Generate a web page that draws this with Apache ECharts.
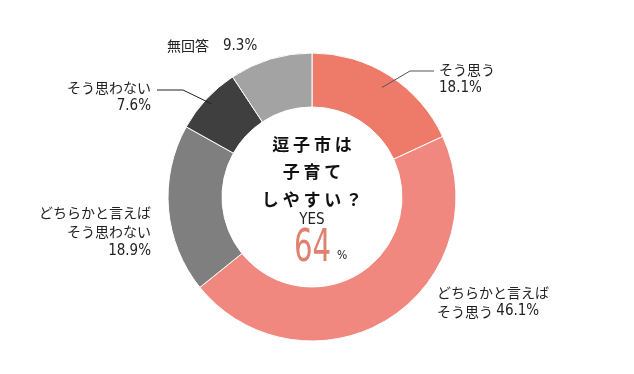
<!DOCTYPE html>
<html><head><meta charset="utf-8">
<script src="https://cdn.jsdelivr.net/npm/echarts@6/dist/echarts.min.js"></script>
<style>html,body{margin:0;padding:0;background:#fff}#c{width:634px;height:374px}</style>
</head><body><div id="c"></div>
<script>
// ---- data ----
var categories = ['そう思う', 'どちらかと言えばそう思う', 'どちらかと言えばそう思わない', 'そう思わない', '無回答'];
var labelNames = ['そう思う', 'どちらかと言えば\nそう思う', 'どちらかと言えば\nそう思わない', 'そう思わない', '無回答'];
var values = [18.1, 46.1, 18.9, 7.6, 9.3];
var yesTotal = 64;
var centerTitle = ['逗 子 市 は', '子 育 て', 'し や す い ？'];

// ---- styles / layout ----
var colors = ['#ee7b6a', '#f08880', '#7f7f7f', '#3f3f3f', '#a3a3a3'];
var CX = 312, CY = 197, R_IN = 90, R_OUT = 144;
var labelPos = [
  {x: 439, y: 79, align: 'left', line: [[410, 71], [434, 71]], lineColor: '#555', r: 130},
  {x: 437, y: 302, align: 'left'},
  {x: 151, y: 232, align: 'right'},
  {x: 151, y: 97, align: 'right', line: [[183, 90], [157, 90]], lineColor: '#222', r: 137},
  {x: 167, y: 46, align: 'left'}
];

var chart = echarts.init(document.getElementById('c'));
var narrow = '"Liberation Sans Narrow","DejaVu Sans Condensed",sans-serif';
var jp = '"Noto Sans CJK JP",sans-serif';

var data = values.map(function (v, i) {
  var fmt;
  if (i === 1) fmt = '{n|どちらかと言えば}\n{n|そう思う} {p|' + v + '%}';
  else if (i === 4) fmt = '{n|' + labelNames[i] + '}{n|　}{p|' + v + '%}';
  else fmt = labelNames[i].split('\n').map(function (s) { return '{n|' + s + '}'; }).join('\n') + '\n{p|' + v + '%}';
  return {
    name: categories[i], value: v,
    itemStyle: {color: colors[i]},
    label: {formatter: fmt, align: labelPos[i].align}
  };
});

// leader lines: start inside the slice at its mid angle
var total = values.reduce(function (a, b) { return a + b; }, 0);
var guides = [];
var cum = 0;
values.forEach(function (v, i) {
  var mid = (cum + v / 2) / total;
  cum += v;
  var lp = labelPos[i];
  if (!lp.line) return;
  var ang = Math.PI / 2 - mid * Math.PI * 2;
  var start = [CX + lp.r * Math.cos(ang), CY - lp.r * Math.sin(ang)];
  guides.push({
    type: 'polyline', z: 100,
    shape: {points: [start, lp.line[0], lp.line[1]]},
    style: {stroke: lp.lineColor, lineWidth: 1, fill: null}
  });
});

var titleFont = 'bold 17px ' + jp;
chart.setOption({
  animation: false,
  series: [{
    type: 'pie',
    center: [CX, CY],
    radius: [R_IN, R_OUT],
    startAngle: 90,
    clockwise: true,
    itemStyle: {borderColor: '#fff', borderWidth: 1},
    label: {
      show: true, position: 'outside', color: '#222', overflow: 'none', width: 200,
      rich: {
        n: {fontFamily: jp, fontSize: 14, color: '#222', lineHeight: 19},
        p: {fontFamily: narrow, fontSize: 15, color: '#222', lineHeight: 19}
      }
    },
    labelLine: {show: false},
    labelLayout: function (params) {
      var lp = labelPos[params.dataIndex];
      return {x: lp.x, y: lp.y, align: lp.align, verticalAlign: 'middle', moveOverlap: null};
    },
    data: data
  }],
  graphic: guides.concat([
    {type: 'text', x: CX, y: 145, style: {text: centerTitle[0], font: titleFont, fill: '#111', align: 'center', verticalAlign: 'middle'}},
    {type: 'text', x: CX, y: 172, style: {text: centerTitle[1], font: titleFont, fill: '#111', align: 'center', verticalAlign: 'middle'}},
    {type: 'text', x: CX, y: 200, style: {text: centerTitle[2], font: titleFont, fill: '#111', align: 'center', verticalAlign: 'middle'}},
    {type: 'text', x: CX, y: 220, style: {text: 'YES', font: '15px ' + narrow, fill: '#222', align: 'center', verticalAlign: 'middle'}},
    {type: 'text', x: 331, y: 249, scaleX: 0.72, style: {text: String(yesTotal), font: '45px ' + narrow, fill: '#e0806f', align: 'right', verticalAlign: 'middle'}},
    {type: 'text', x: 337, y: 256, style: {text: '%', font: '12px ' + narrow, fill: '#222', align: 'left', verticalAlign: 'middle'}}
  ])
});
</script></body></html>
